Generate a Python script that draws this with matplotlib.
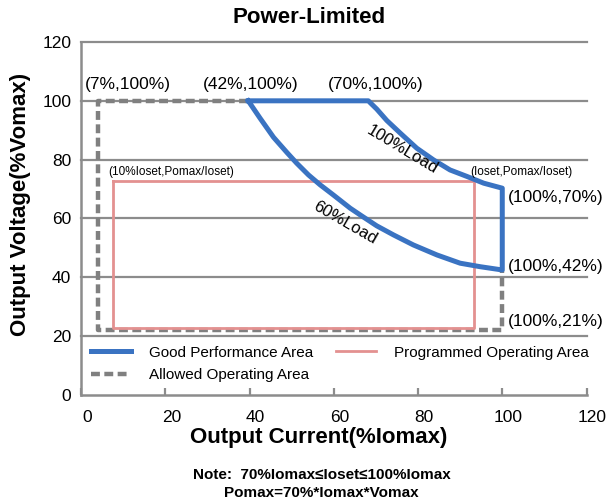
import matplotlib
matplotlib.use("Agg")
import matplotlib.pyplot as plt
import matplotlib.transforms as mtransforms

plt.rcParams['font.family'] = ['Liberation Sans', 'DejaVu Sans']

# good performance area (blue outline):
# top edge, 100% load curve, right edge, 60% load curve back to start
good_x = [39.7, 68.2, 70.2, 72.6, 75.8, 79.7, 83.7, 87.6, 91.6, 95.6, 100,
          100, 94.8, 90.0, 84.5, 78.9, 74.2, 70.2, 66.5, 63.9, 59.9, 56.8,
          54.0, 51.2, 48.9, 45.7, 42.5, 39.7]
good_y = [100, 100, 97.2, 93.3, 89.0, 83.9, 79.9, 76.5, 74.3, 72.0, 70.3,
          42.5, 43.6, 44.8, 47.6, 51.0, 54.4, 57.5, 61.0, 63.5, 68.0, 71.4,
          74.8, 78.8, 82.4, 87.6, 94.1, 100]

# allowed operating area (grey dashed)
allowed_x = [39.7, 4, 4, 100, 100]
allowed_y = [100, 100, 22, 22, 42.5]

# programmed operating area (pink rectangle)
prog_x = [7.5, 93.3, 93.3, 7.5, 7.5]
prog_y = [72.6, 72.6, 22.7, 22.7, 72.6]

ticks = [0, 20, 40, 60, 80, 100, 120]

BLUE = '#3a73c2'
PINK = '#e39190'
GREY = '#808080'
GRID = '#8c8c8c'

fig = plt.figure(figsize=(6.1, 5.04), dpi=100)
ax = fig.add_axes([0.1328, 0.2163, 0.8287, 0.7004])

ax.set_xlim(0, 120)
ax.set_ylim(0, 120)
ax.set_xticks(ticks)
ax.set_yticks(ticks)
for v in ticks[1:]:
    ax.axhline(v, color=GRID, lw=1.6, zorder=1, clip_on=False)

for s in ['top', 'right']:
    ax.spines[s].set_visible(False)
for s in ['left', 'bottom']:
    ax.spines[s].set_color(GRID)
    ax.spines[s].set_linewidth(1.8)

ax.tick_params(axis='x', direction='in', length=5, width=1.6, color=GRID,
               labelsize=12.5, pad=11)
ax.tick_params(axis='y', length=0, labelsize=12.5, pad=7)
# tick labels sit a little right of their ticks in the original
offset = mtransforms.ScaledTranslation(6 / 100, 0, fig.dpi_scale_trans)
for lab in ax.get_xticklabels():
    lab.set_transform(lab.get_transform() + offset)

l_allowed, = ax.plot(allowed_x, allowed_y, color=GREY, lw=3.2, dashes=(2.0, 1.0),
                     solid_capstyle='butt', zorder=2, clip_on=False)
l_prog, = ax.plot(prog_x, prog_y, color=PINK, lw=2.0, zorder=3)
l_good, = ax.plot(good_x, good_y, color=BLUE, lw=3.6, zorder=4,
                  solid_joinstyle='round')

ax.legend([l_good, l_allowed, l_prog],
          ['Good Performance Area', 'Allowed Operating Area', 'Programmed Operating Area'],
          ncol=2, frameon=False, fontsize=11, loc='upper left',
          bbox_to_anchor=(0.02, 0.14), borderaxespad=0, borderpad=0,
          handlelength=2.6, handletextpad=1.2, columnspacing=1.5, labelspacing=0.55)

# corner annotations
big = dict(fontsize=12.5, ha='left', va='center', zorder=5)
ax.text(1.0, 105.4, '(7%,100%)', **big)
ax.text(29.0, 105.4, '(42%,100%)', **big)
ax.text(58.6, 105.4, '(70%,100%)', **big)
ax.text(101.4, 67.0, '(100%,70%)', clip_on=False, **big)
ax.text(101.4, 43.6, '(100%,42%)', clip_on=False, **big)
ax.text(101.4, 24.9, '(100%,21%)', clip_on=False, **big)
small = dict(fontsize=8.5, ha='left', va='center', zorder=5)
ax.text(6.4, 75.9, '(10%Ioset,Pomax/Ioset)', **small)
ax.text(92.4, 75.9, '(Ioset,Pomax/Ioset)', clip_on=False, **small)

ax.text(76.4, 83.3, '100%Load', fontsize=12, rotation=-31, ha='center', va='center', zorder=5)
ax.text(62.7, 58.5, '60%Load', fontsize=12, rotation=-30, ha='center', va='center', zorder=5)

fig.text(0.507, 0.966, 'Power-Limited', fontsize=16, fontweight='bold', ha='center', va='center')
fig.text(0.523, 0.131, 'Output Current(%Iomax)', fontsize=16, fontweight='bold',
         ha='center', va='center')
fig.text(0.033, 0.595, 'Output Voltage(%Vomax)', fontsize=16, fontweight='bold',
         ha='center', va='center', rotation=90)
fig.text(0.527, 0.058, 'Note:  70%Iomax≤Ioset≤100%Iomax', fontsize=11, fontweight='bold',
         ha='center', va='center')
fig.text(0.527, 0.022, 'Pomax=70%*Iomax*Vomax', fontsize=11, fontweight='bold',
         ha='center', va='center')

fig.savefig('out.png', dpi=100)
